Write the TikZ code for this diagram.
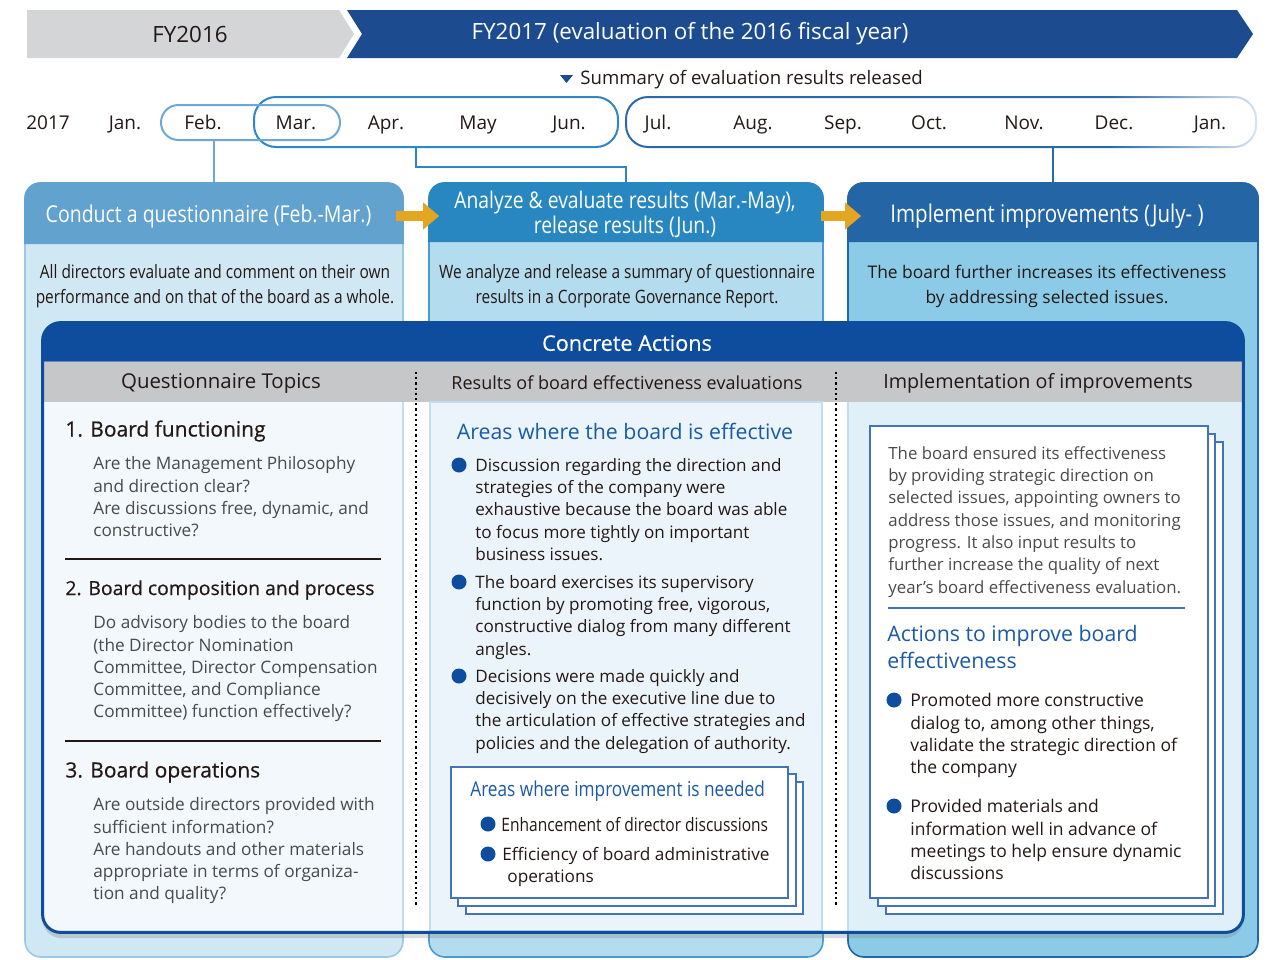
\documentclass[tikz,border=0pt]{standalone}
\usepackage{fontspec}
\setmainfont{Open Sans}
\newfontfamily\narrowfont{Open Sans}[FakeStretch=0.84]
\newfontfamily\semifont{Open Sans}[FakeBold=0.5]
\usetikzlibrary{positioning, arrows.meta, shadows, fadings}

\definecolor{ink}{HTML}{231815}
\definecolor{inklight}{HTML}{4A4A4A}
\definecolor{fygrey}{HTML}{D4D5D7}
\definecolor{fyblue}{HTML}{1D4B8F}
\definecolor{febline}{HTML}{6AA8D6}
\definecolor{marline}{HTML}{2F86C4}
\definecolor{julline}{HTML}{2A6AAC}
\definecolor{questhd}{HTML}{62A2CF}
\definecolor{questbg}{HTML}{D0E7F4}
\definecolor{questln}{HTML}{9CC8E4}
\definecolor{evalhd}{HTML}{2887C1}
\definecolor{evalbg}{HTML}{B3DCEF}
\definecolor{evalln}{HTML}{4A9BD0}
\definecolor{implhd}{HTML}{2465A6}
\definecolor{implbg}{HTML}{8BCBE7}
\definecolor{implln}{HTML}{2465A6}
\definecolor{flow}{HTML}{E3A623}
\definecolor{panelblue}{HTML}{0E4C9E}
\definecolor{subgrey}{HTML}{C5C7C9}
\definecolor{colone}{HTML}{F3F8FC}
\definecolor{coltwo}{HTML}{EAF4FA}
\definecolor{colthree}{HTML}{E0F0F8}
\definecolor{colline}{HTML}{C2DDEF}
\definecolor{headblue}{HTML}{1A5AA8}
\definecolor{stackline}{HTML}{4573B8}

\tikzset{
  yeartxt/.style={inner sep=0pt, font=\fontsize{11.2}{13}\selectfont},
  month/.style={inner sep=0pt, anchor=base, text=ink, font=\fontsize{9.5}{11}\selectfont},
  period/.style={inner sep=0pt, line width=1pt},
  bigbox/.style={inner sep=0pt, line width=0.8pt, rounded corners=8pt},
  headtxt/.style={inner sep=0pt, text=white, align=center, font=\narrowfont\fontsize{11.6}{11}\selectfont},
  boxtxt/.style={inner sep=0pt, text=ink, align=center, font=\narrowfont\fontsize{9.2}{12.5}\selectfont},
  flowarrow/.style={draw=flow, line width=5pt, -{Triangle[length=8pt, width=13pt]}},
  panelbox/.style={inner sep=0pt, fill=white, rounded corners=9pt,
    drop shadow={shadow xshift=0pt, shadow yshift=-3pt, opacity=0.3}},
  subtxt/.style={inner sep=0pt, text=ink, font=\fontsize{9.8}{11}\selectfont},
  topic/.style={inner sep=0pt, anchor=west, text=ink, font=\semifont\fontsize{10.5}{13}\selectfont},
  question/.style={inner sep=0pt, anchor=north west, align=left, text=inklight, font=\fontsize{8.6}{11.1}\selectfont},
  bluehead/.style={inner sep=0pt, text=headblue, font=\fontsize{10.65}{13.5}\selectfont},
  pointtxt/.style={inner sep=0pt, anchor=north west, align=left, text=ink, font=\fontsize{8.6}{11.1}\selectfont},
  bulletdot/.style={circle, fill=panelblue, inner sep=0pt, minimum size=7.5pt},
  stackbox/.style={draw=stackline, fill=white, line width=0.7pt},
  separator/.style={line width=1.1pt, dash pattern=on 1.1pt off 1.5pt}
}

\begin{document}
\begin{tikzpicture}[x=0.5pt, y=-0.5pt]
\useasboundingbox (0,0) rectangle (1268,959);

% fiscal years
\fill[fygrey] (27,10) -- (339,10) -- (354,34) -- (339,58) -- (27,58) -- cycle;
\fill[fyblue] (347,10) -- (1237,10) -- (1253,34) -- (1237,58) -- (347,58) -- (362,34) -- cycle;
\node[yeartxt, text=ink] (fyold) at (190,34) {FY2016};
\node[yeartxt, text=white] (fynew) at (690,34) {FY2017 (evaluation of the 2016 fiscal year)};

% release of the summary
\node[month, anchor=west, font=\fontsize{9.3}{11}\selectfont] (summary) at (580,80) {Summary of evaluation results released};
\fill[fyblue] (560,75) -- (573,75) -- (566.5,83) -- cycle;

% periods on the time line
\node[period, draw=marline, minimum width=182pt, minimum height=25pt, rounded corners=11pt] (marjun) at (436,122) {};
\node[period, draw=febline, minimum width=89.5pt, minimum height=17.5pt, rounded corners=8.7pt] (febmar) at (250.5,122.5) {};
\node[period, draw=julline, minimum width=315pt, minimum height=25pt, rounded corners=11pt] (juljan) at (941,122) {};
\fill[white, path fading=west, fill opacity=0.85] (1110,92) rectangle (1264,152);

\foreach \mname/\mx/\mtext in {yr/48/2017, jan/125/Jan., feb/203/Feb., mar/296/Mar., apr/386/Apr., may/478/May, jun/569/Jun., jul/658/Jul., aug/753/Aug., sep/843/Sep., oct/929/Oct., nov/1024/Nov., dec/1114/Dec., jannext/1210/Jan.}
  \node[month] (\mname) at (\mx,129) {\mtext};

% the three steps
\node[bigbox, draw=questln, fill=questbg, minimum width=189pt, minimum height=387pt] (questbox) at (214,570) {};
\node[bigbox, draw=evalln, fill=evalbg, minimum width=197pt, minimum height=387pt] (evalbox) at (626,570) {};
\node[bigbox, draw=implln, fill=implbg, minimum width=205pt, minimum height=387pt] (implbox) at (1053,570) {};

\fill[questhd] ([yshift=-31pt]questbox.north west) [rounded corners=8pt] -- (questbox.north west) -- (questbox.north east) [sharp corners] -- ([yshift=-31pt]questbox.north east) -- cycle;
\fill[evalhd] ([yshift=-30pt]evalbox.north west) [rounded corners=8pt] -- (evalbox.north west) -- (evalbox.north east) [sharp corners] -- ([yshift=-30pt]evalbox.north east) -- cycle;
\fill[implhd] ([yshift=-30pt]implbox.north west) [rounded corners=8pt] -- (implbox.north west) -- (implbox.north east) [sharp corners] -- ([yshift=-30pt]implbox.north east) -- cycle;

\node[headtxt] (questhead) at (208.5,216) {Conduct a questionnaire (Feb.-Mar.)};
\node[headtxt, font=\narrowfont\fontsize{11.5}{11}\selectfont] (evalhead) at (625,214) {Analyze \& evaluate results (Mar.-May),\\release results (Jun.)};
\node[headtxt, font=\narrowfont\fontsize{12.2}{11}\selectfont] (implhead) at (1047,216) {Implement improvements (July- )};

\node[boxtxt] (questtxt) at (215,286) {All directors evaluate and comment on their own\\performance and on that of the board as a whole.};
\node[boxtxt] (evaltxt) at (627,286) {We analyze and release a summary of questionnaire\\results in a Corporate Governance Report.};
\node[boxtxt, font=\fontsize{8.7}{12.5}\selectfont] (impltxt) at (1047,286) {The board further increases its effectiveness\\by addressing selected issues.};

\draw[febline, line width=1pt] (febmar.south -| questbox.north) -- (questbox.north);
\draw[marline, line width=1pt] ([xshift=-10pt]marjun.south) |- ([yshift=7.5pt]evalbox.north) -- (evalbox.north);
\draw[julline, line width=1pt] (juljan.south -| implbox.north) -- (implbox.north);

\draw[flowarrow] ([xshift=-4pt]questbox.east |- questhead.center) -- ([xshift=5.5pt]evalbox.west |- questhead.center);
\draw[flowarrow] ([xshift=-1.5pt]evalbox.east |- questhead.center) -- ([xshift=7pt]implbox.west |- questhead.center);

% concrete actions
\node[panelbox, minimum width=600pt, minimum height=304.5pt] (panel) at (643,627.5) {};
\fill[panelblue] ([yshift=-19.5pt]panel.north west) [rounded corners=9pt] -- (panel.north west) -- (panel.north east) [sharp corners] -- ([yshift=-19.5pt]panel.north east) -- cycle;
\fill[subgrey] (44,362) rectangle (1242,402);
\fill[colone] (44,402) -- (403,402) -- (403,931) [rounded corners=9pt] -- (44,931) [sharp corners] -- cycle;
\filldraw[fill=coltwo, draw=colline, line width=0.6pt] (430,402) rectangle (822,931);
\fill[colthree] (848,402) -- (1242,402) [rounded corners=9pt] -- (1242,931) [sharp corners] -- (848,931) -- cycle;
\draw[colline, line width=0.6pt] (403,402) -- (403,931) (848,402) -- (848,931);
\draw[panelblue, line width=1.5pt, rounded corners=9pt] (panel.north west) rectangle (panel.south east);

\node[inner sep=0pt, text=white, font=\semifont\fontsize{10.8}{12}\selectfont] (concrete) at (627,343) {Concrete Actions};
\node[subtxt, font=\fontsize{10.2}{11}\selectfont] (topics) at (221,383) {Questionnaire Topics};
\node[subtxt, font=\fontsize{9}{11}\selectfont] (results) at (627,383) {Results of board effectiveness evaluations};
\node[subtxt, font=\fontsize{9.85}{11}\selectfont] (implementation) at (1038,383) {Implementation of improvements};

\draw[separator] (416,372) -- (416,905);
\draw[separator] (836,372) -- (836,905);

% questionnaire topics
\node[topic] (topicone) at (65,431) {1. Board functioning};
\node[question] (qone) at (93,456.5) {Are the Management Philosophy\\and direction clear?\\Are discussions free, dynamic, and\\constructive?};
\draw[ink, line width=0.6pt] (65,559) -- (381,559);
\node[topic, font=\semifont\fontsize{9.7}{13}\selectfont] (topictwo) at (65,590) {2. Board composition and process};
\node[question] (qtwo) at (93,615.5) {Do advisory bodies to the board\\(the Director Nomination\\Committee, Director Compensation\\Committee, and Compliance\\Committee) function effectively?};
\draw[ink, line width=0.6pt] (65,741) -- (381,741);
\node[topic] (topicthree) at (65,772) {3. Board operations};
\node[question] (qthree) at (93,797.5) {Are outside directors provided with\\sufficient information?\\Are handouts and other materials\\appropriate in terms of organiza-\\tion and quality?};

% results
\node[bluehead] (effective) at (625,431) {Areas where the board is effective};
\node[bulletdot] (dotone) at (459,465) {};
\node[pointtxt, font=\fontsize{8.55}{11.1}\selectfont] (ptone) at (475,458) {Discussion regarding the direction and\\strategies of the company were\\exhaustive because the board was able\\to focus more tightly on important\\business issues.};
\node[bulletdot] (dottwo) at (459,582) {};
\node[pointtxt, font=\fontsize{8.55}{11.1}\selectfont] (pttwo) at (475,575) {The board exercises its supervisory\\function by promoting free, vigorous,\\constructive dialog from many different\\angles.};
\node[bulletdot] (dotthree) at (459,676) {};
\node[pointtxt, font=\fontsize{8.55}{11.1}\selectfont] (ptthree) at (475,669) {Decisions were made quickly and\\decisively on the executive line due to\\the articulation of effective strategies and\\policies and the delegation of authority.};

\filldraw[stackbox] (466,782) rectangle (803,914);
\filldraw[stackbox] (458,774) rectangle (796,906);
\filldraw[stackbox] (451,767) rectangle (788,898);
\node[bluehead, anchor=west, font=\narrowfont\fontsize{10.25}{12}\selectfont] (needed) at (470,791) {Areas where improvement is needed};
\node[bulletdot] (dotfour) at (488,824) {};
\node[pointtxt, anchor=west, font=\narrowfont\fontsize{9.25}{11}\selectfont] (ptfour) at (501,824) {Enhancement of director discussions};
\node[bulletdot] (dotfive) at (488,854) {};
\node[pointtxt, font=\fontsize{8.6}{11.1}\selectfont] (ptfive) at (502,847) {Efficiency of board administrative\\\hspace*{2.5pt}operations};

% implementation
\filldraw[stackbox] (886,442) rectangle (1223,914);
\filldraw[stackbox] (878,434) rectangle (1215,906);
\filldraw[stackbox] (870,426) rectangle (1208,898);
\node[question, font=\fontsize{8.4}{11.15}\selectfont] (ensured) at (888,446) {The board ensured its effectiveness\\by providing strategic direction on\\selected issues, appointing owners to\\address those issues, and monitoring\\progress. It also input results to\\further increase the quality of next\\year’s board effectiveness evaluation.};
\draw[stackline, line width=1pt] (888,608) -- (1185,608);
\node[bluehead, anchor=north west, align=left] (improve) at (887,625) {Actions to improve board\\effectiveness};
\node[bulletdot] (dotsix) at (894,700) {};
\node[pointtxt, font=\fontsize{8.75}{11.2}\selectfont] (ptsix) at (910,693) {Promoted more constructive\\dialog to, among other things,\\validate the strategic direction of\\the company};
\node[bulletdot] (dotseven) at (894,806) {};
\node[pointtxt, font=\fontsize{8.75}{11.2}\selectfont] (ptseven) at (910,799) {Provided materials and\\information well in advance of\\meetings to help ensure dynamic\\discussions};
\end{tikzpicture}
\end{document}
